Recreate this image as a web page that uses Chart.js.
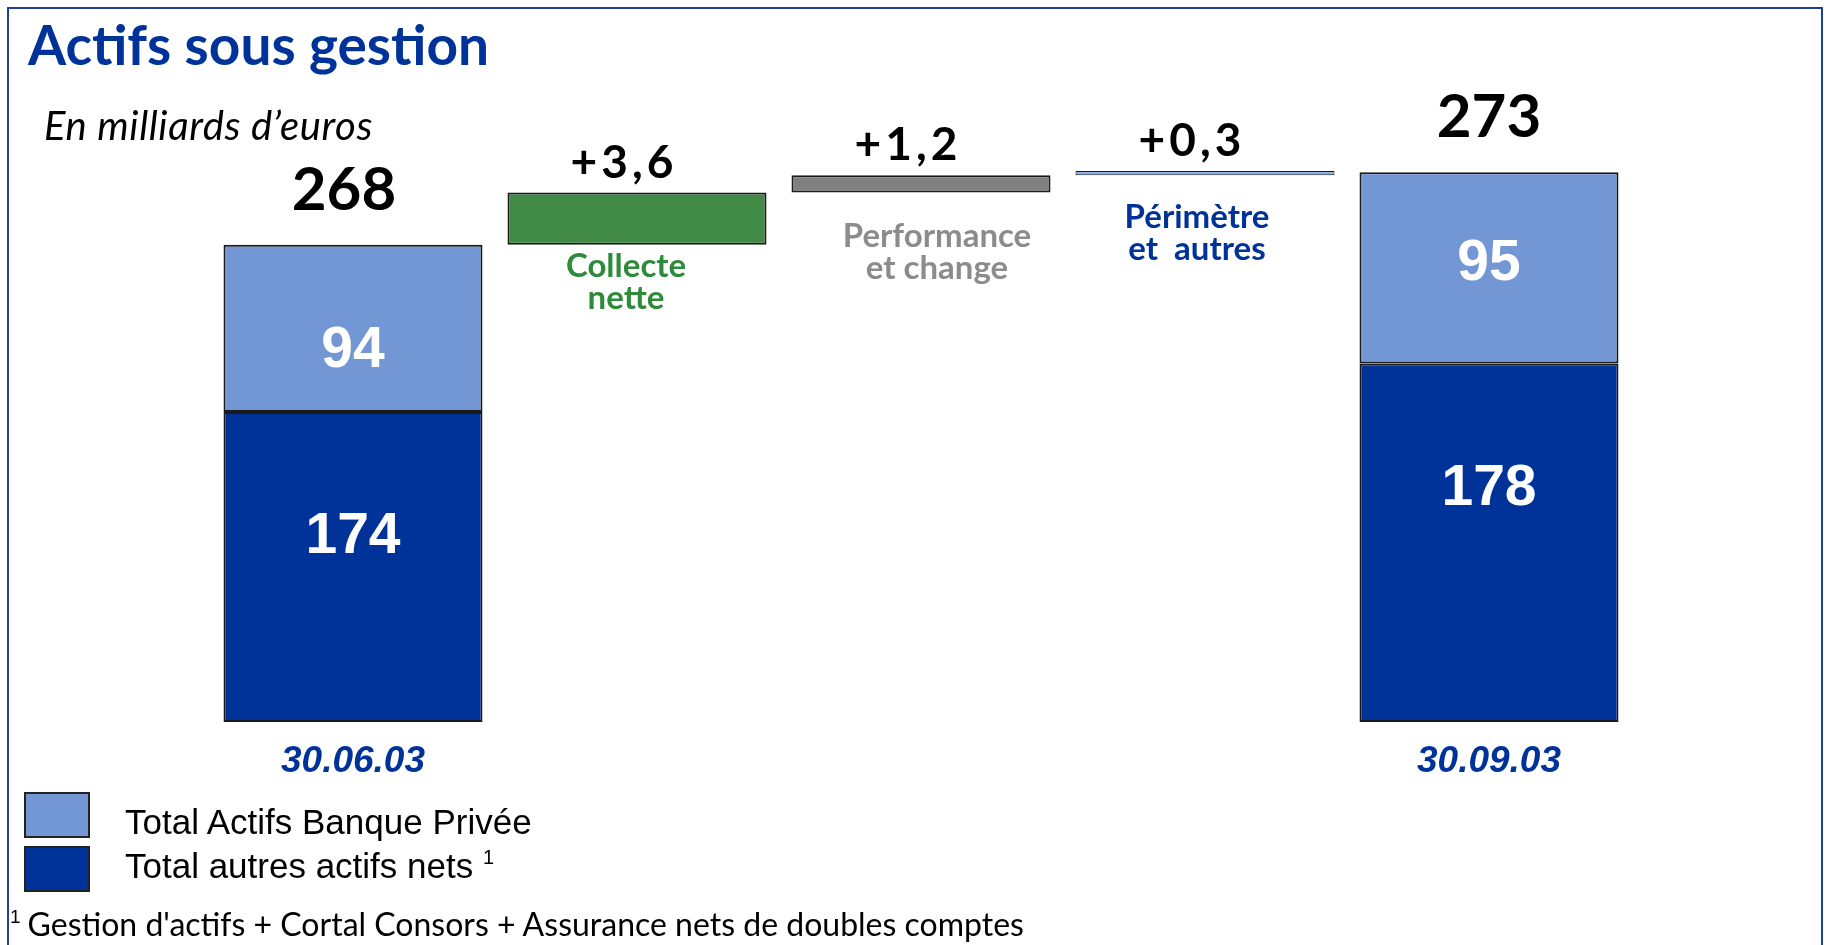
<!DOCTYPE html>
<html lang="fr">
<head>
<meta charset="utf-8">
<title>Actifs sous gestion</title>
<script src="https://cdn.jsdelivr.net/npm/chart.js@4.4.1/dist/chart.umd.min.js"></script>
<style>
  html, body { margin: 0; padding: 0; background: #fff; overflow: hidden; }
  #page { position: relative; width: 1827px; height: 945px; overflow: hidden; }
  #frame { position: absolute; left: 7px; top: 7px; width: 1816px; height: 1000px; border: 2px solid #1f3f99; box-sizing: border-box; }
  #chart { position: absolute; left: 0; top: 0; }
  .title { position: absolute; left: 28px; top: 11px; font: bold 55px Lato, sans-serif; color: #003399; white-space: nowrap; }
  .subtitle { position: absolute; left: 44px; top: 101px; font: italic 40px Lato, sans-serif; letter-spacing: 0.6px; color: #000; white-space: nowrap; }
  .legend { position: absolute; left: 24px; font: 35px "Liberation Sans", Arial, sans-serif; color: #000; white-space: nowrap; }
  .legend .box { position: absolute; left: 0; width: 62px; height: 42px; border: 2px solid #222; }
  .legend span.txt { position: absolute; left: 101px; }
  .legend sup { font-size: 20px; vertical-align: 14px; }
  .note { position: absolute; left: 10px; top: 904px; font: 32px Lato, sans-serif; color: #000; white-space: nowrap; }
  .note sup { font: 19px "Liberation Sans", Arial, sans-serif; vertical-align: 13px; margin-right: 7px; }
</style>
</head>
<body>
<div id="page">
  <div id="frame"></div>
  <canvas id="chart" width="1827" height="945"></canvas>
  <div class="title">Actifs sous gestion</div>
  <div class="subtitle">En milliards d’euros</div>
  <div class="legend" style="top:792px"><div class="box" style="background:#7396d4"></div><span class="txt" style="top:10px">Total Actifs Banque Privée</span></div>
  <div class="legend" style="top:846px"><div class="box" style="background:#003399"></div><span class="txt" style="top:0px">Total autres actifs nets <sup>1</sup></span></div>
  <div class="note"><sup>1</sup>Gestion d'actifs + Cortal Consors + Assurance nets de doubles comptes</div>
</div>
<script>
// Data
const categories = ["30.06.03", "Collecte nette", "Performance et change", "Périmètre et autres", "30.09.03"];
const totals = [268, 273];          // start and end totals
const banquePrivee = [94, 95];      // light blue part
const autresActifs = [174, 178];    // dark blue part
const variations = [3.6, 1.2, 0.3]; // steps of the bridge
const totalLabels = ["268", "273"];
const variationLabels = ["+3,6", "+1,2", "+0,3"];
const yTicks = { min: 235, max: 278 }; // truncated value axis

// The slide splits each total bar in proportion to its parts
function splitAt(i) {
    return yTicks.min + (totals[i] - yTicks.min) * autresActifs[i] / totals[i];
}

const darkData = [[yTicks.min, splitAt(0)], null, null, null, [yTicks.min, splitAt(1)]];
const lightData = [[splitAt(0), totals[0]], null, null, null, [splitAt(1), totals[1]]];
const stepData = [null];
let running = totals[0];
variations.forEach((v) => {
    stepData.push([running, running + v]);
    running += v;
});
stepData.push(null);

// styling of the labels
const stepColors = ["#418a47", "#808080", "#8db4e2"];
const stepTextColors = ["#2e8b3a", "#8c8c8c", "#003399"];
const stepTextLines = [["Collecte", "nette"], ["Performance", "et change"], ["Périmètre", "et  autres"]];
const stepTextDy = [32, 54, 53];
const stepTextDx = [-11, 16, -8];
const lightLabelPos = [0.61, 0.46];
const darkLabelPos = [0.39, 0.34];

// Labels drawn on and around the bars
const labelPlugin = {
    id: "barLabels",
    afterDatasetsDraw(chart) {
        const ctx = chart.ctx;
        const dark = chart.getDatasetMeta(0).data;
        const light = chart.getDatasetMeta(1).data;
        const steps = chart.getDatasetMeta(2).data;
        ctx.save();
        ctx.textAlign = "center";
        ctx.textBaseline = "alphabetic";

        [0, 4].forEach((idx, k) => {
            const l = light[idx], d = dark[idx];
            // total above
            ctx.fillStyle = "#000";
            ctx.font = "bold 60px Lato, sans-serif";
            ctx.fillText(totalLabels[k], l.x - (k === 0 ? 9 : 0), l.y - 35);
            // parts inside
            ctx.fillStyle = "#fff";
            ctx.font = "bold 57px 'Liberation Sans', Arial, sans-serif";
            const lc = l.y + (l.base - l.y) * lightLabelPos[k];
            ctx.fillText(String(banquePrivee[k]), l.x, lc + 20);
            const dc = d.y + (d.base - d.y) * darkLabelPos[k];
            ctx.fillText(String(autresActifs[k]), d.x, dc + 20);
        });

        variations.forEach((v, k) => {
            const b = steps[k + 1];
            ctx.fillStyle = "#000";
            ctx.font = "bold 46px Lato, sans-serif";
            ctx.letterSpacing = "4px";
            ctx.fillText(variationLabels[k], b.x - 13, b.y - 15);
            ctx.letterSpacing = "0px";
            ctx.fillStyle = stepTextColors[k];
            ctx.font = "bold 33px Lato, sans-serif";
            const y0 = b.base + stepTextDy[k];
            ctx.fillText(stepTextLines[k][0], b.x + stepTextDx[k], y0);
            ctx.fillText(stepTextLines[k][1], b.x + stepTextDx[k], y0 + 32);
        });
        ctx.restore();
    }
};

const ctx = document.getElementById("chart").getContext("2d");
const chart = new Chart(ctx, {
    type: "bar",
    data: {
        labels: categories,
        datasets: [
            {
                label: "Total autres actifs nets",
                data: darkData,
                backgroundColor: "#003399",
                borderColor: "#1a1a1a",
                borderWidth: 2,
                borderSkipped: false,
            },
            {
                label: "Total Actifs Banque Privée",
                data: lightData,
                backgroundColor: "#7396d4",
                borderColor: "#1a1a1a",
                borderWidth: 2,
                borderSkipped: false,
            },
            {
                label: "Variations",
                data: stepData,
                backgroundColor: [null].concat(stepColors, [null]),
                borderColor: "#1a1a1a",
                borderWidth: [0, 2, 2, 1, 0],
                borderSkipped: false,
            },
        ],
    },
    options: {
        responsive: false,
        animation: false,
        events: [],
        datasets: {
            bar: {
                grouped: false,
                categoryPercentage: 1,
                barPercentage: 0.912,
            },
        },
        layout: {
            padding: { left: 211, right: 196, top: 100, bottom: 143 },
        },
        plugins: {
            legend: { display: false },
            tooltip: { enabled: false },
        },
        scales: {
            x: {
                grid: { display: false, drawTicks: false },
                border: { display: false },
                afterFit(scale) { scale.height = 80; },
                ticks: {
                    padding: 18,
                    autoSkip: false,
                    maxRotation: 0,
                    color: "#003399",
                    font: { family: "'Liberation Sans', Arial, sans-serif", size: 37, weight: "bold", style: "italic" },
                    callback: (val, i) => (i === 0 || i === categories.length - 1 ? categories[i] : ""),
                },
            },
            y: {
                display: false,
                min: yTicks.min,
                max: yTicks.max,
            },
        },
    },
    plugins: [labelPlugin],
});
</script>
</body>
</html>
